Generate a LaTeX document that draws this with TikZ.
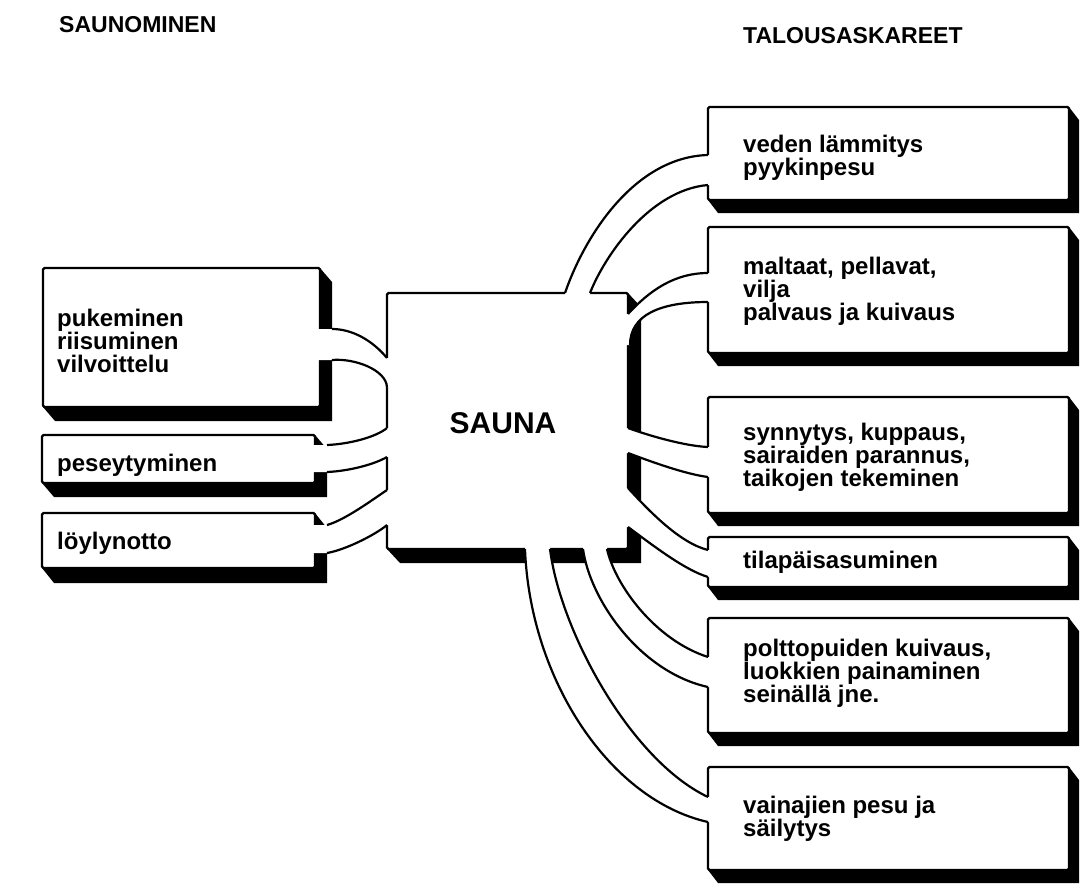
\documentclass[tikz,border=0pt]{standalone}
\usepackage{fontspec}
\setmainfont{Liberation Sans}
\usetikzlibrary{calc}
\pgfdeclarelayer{bg}
\pgfsetlayers{bg,main}
\tikzset{
  boxnode/.style={draw=black, fill=white, line width=2.4pt, rectangle, inner sep=0pt, outer sep=0pt, rounded corners=1.5pt},
  bandline/.style={draw=black, line width=2.2pt},
  bandfill/.style={fill=white},
  lbl/.style={font=\bfseries\fontsize{24}{23}\selectfont, align=left, anchor=west, inner sep=0pt},
  hdr/.style={font=\bfseries\fontsize{23}{26}\selectfont, anchor=west, inner sep=0pt},
  bigl/.style={font=\bfseries\fontsize{30}{32}\selectfont, inner sep=0pt},
}
\newcommand\shadowof[3]{%
  \begin{pgfonlayer}{bg}
  \fill[black] (#1.south west) -- ($(#1.south west)+(#2,#3)$) -- ($(#1.south east)+(#2,#3)$) -- ($(#1.north east)+(#2,#3)$) -- (#1.north east) -- cycle;
  \end{pgfonlayer}}
\begin{document}
\begin{tikzpicture}[x=1pt,y=-1pt]
\useasboundingbox (0,0) rectangle (1089,884);
\begin{pgfonlayer}{bg}
\fill[white] (0,0) rectangle (1089,884);
\end{pgfonlayer}

% boxes
\node[boxnode, minimum width=277pt, minimum height=139pt] (A) at (181.5,337.5) {};
\node[boxnode, minimum width=273pt, minimum height=48pt] (B) at (178.5,459) {};
\node[boxnode, minimum width=273pt, minimum height=55pt] (C) at (178.5,540.5) {};
\node[boxnode, minimum width=241pt, minimum height=256pt] (S) at (507.5,421) {};
\node[boxnode, minimum width=361pt, minimum height=93pt] (R1) at (888.5,153.5) {};
\node[boxnode, minimum width=361pt, minimum height=126pt] (R2) at (888.5,290) {};
\node[boxnode, minimum width=361pt, minimum height=116pt] (R3) at (888.5,455) {};
\node[boxnode, minimum width=361pt, minimum height=50pt] (R4) at (888.5,562) {};
\node[boxnode, minimum width=361pt, minimum height=115pt] (R5) at (888.5,675.5) {};
\node[boxnode, minimum width=361pt, minimum height=103pt] (R6) at (888.5,818.5) {};

\shadowof{A}{12}{14}
\shadowof{B}{12}{14}
\shadowof{C}{12}{15}
\shadowof{S}{13}{14}
\shadowof{R1}{10}{13}
\shadowof{R2}{10}{13}
\shadowof{R3}{10}{13}
\shadowof{R4}{10}{13}
\shadowof{R5}{10}{13}
\shadowof{R6}{10}{13}

% ---- bands, left side ----
% L1: A -> SAUNA
\fill[bandfill] (316,329) -- (332,329) .. controls (352,329) and (372,340) .. (387,358) -- (392,358) -- (392,387) -- (387,387) .. controls (386,370) and (355,358) .. (332,360) -- (316,360) -- cycle;
\draw[bandline] (332,329) .. controls (352,329) and (372,340) .. (387,358);
\draw[bandline] (332,360) .. controls (355,358) and (386,370) .. (387,387);
% L2: B -> SAUNA
\fill[bandfill] (311,445) -- (327,445) .. controls (350,444) and (376,437) .. (387,428) -- (392,428) -- (392,457) -- (387,457) .. controls (375,464) and (350,471) .. (327,472) -- (311,472) -- cycle;
\draw[bandline] (327,445) .. controls (350,444) and (376,437) .. (387,428);
\draw[bandline] (327,472) .. controls (350,471) and (375,464) .. (387,457);
% L3: C -> SAUNA
\fill[bandfill] (311,525) -- (327,525) .. controls (345,520) and (372,500) .. (387,490) -- (392,490) -- (392,525) -- (387,525) .. controls (375,535) and (345,550) .. (327,553) -- (311,553) -- cycle;
\draw[bandline] (327,525) .. controls (345,520) and (372,500) .. (387,490);
\draw[bandline] (327,553) .. controls (345,550) and (375,535) .. (387,525);

% ---- bands, right side ----
% R1
\fill[bandfill] (565,298) -- (565,293) .. controls (585,235) and (635,157) .. (708,155) -- (712,155) -- (712,185) -- (708,185) .. controls (650,190) and (605,255) .. (590,293) -- (590,298) -- cycle;
\draw[bandline] (565,293) .. controls (585,235) and (635,157) .. (708,155);
\draw[bandline] (590,293) .. controls (605,255) and (650,190) .. (708,185);
% R2
\fill[bandfill] (624,314) -- (628,314) .. controls (650,290) and (675,273) .. (708,273) -- (712,273) -- (712,302) -- (708,302) .. controls (660,302) and (630,315) .. (630,345) -- (624,345) -- cycle;
\draw[bandline] (628,314) .. controls (650,290) and (675,273) .. (708,273);
\draw[bandline] (630,345) .. controls (630,315) and (660,302) .. (708,302);
% R3
\fill[bandfill] (624,428) -- (628,428) .. controls (650,436) and (685,446) .. (708,447) -- (712,447) -- (712,477) -- (708,477) .. controls (685,474) and (652,462) .. (628,453) -- (624,453) -- cycle;
\draw[bandline] (628,428) .. controls (650,436) and (685,446) .. (708,447);
\draw[bandline] (628,453) .. controls (652,462) and (685,474) .. (708,477);
% R4
\fill[bandfill] (624,488) -- (628,488) .. controls (650,512) and (680,543) .. (708,550) -- (712,550) -- (712,577) -- (708,577) .. controls (685,570) and (655,547) .. (628,527) -- (624,527) -- cycle;
\draw[bandline] (628,488) .. controls (650,512) and (680,543) .. (708,550);
\draw[bandline] (628,527) .. controls (655,547) and (685,570) .. (708,577);
% R5
\fill[bandfill] (583,545) -- (583,549) .. controls (590,600) and (640,672) .. (708,687) -- (712,687) -- (712,657) -- (708,657) .. controls (655,640) and (615,585) .. (607,549) -- (607,545) -- cycle;
\draw[bandline] (583,549) .. controls (590,600) and (640,672) .. (708,687);
\draw[bandline] (607,549) .. controls (615,585) and (655,640) .. (708,657);
% R6
\fill[bandfill] (525,545) -- (525,549) .. controls (530,680) and (610,800) .. (708,822) -- (712,822) -- (712,797) -- (708,797) .. controls (630,760) and (560,630) .. (550,549) -- (550,545) -- cycle;
\draw[bandline] (525,549) .. controls (530,680) and (610,800) .. (708,822);
\draw[bandline] (550,549) .. controls (560,630) and (630,760) .. (708,797);

% ---- texts ----
\node[hdr] (h1) at (59,25) {SAUNOMINEN};
\node[hdr] (h2) at (743,36) {TALOUSASKAREET};
\node[lbl] (tA) at (57,341) {pukeminen\\riisuminen\\vilvoittelu};
\node[lbl] (tB) at (57,465) {peseytyminen};
\node[lbl] (tC) at (57,543) {löylynotto};
\node[bigl] (tS) at (503,423) {SAUNA};
\node[lbl] (t1) at (743,158) {veden lämmitys\\pyykinpesu};
\node[lbl] (t2) at (743,291) {maltaat, pellavat,\\vilja\\palvaus ja kuivaus};
\node[lbl] (t3) at (743,457) {synnytys, kuppaus,\\sairaiden parannus,\\taikojen tekeminen};
\node[lbl] (t4) at (743,562) {tilapäisasuminen};
\node[lbl] (t5) at (743,673) {polttopuiden kuivaus,\\luokkien painaminen\\seinällä jne.};
\node[lbl] (t6) at (743,819) {vainajien pesu ja\\säilytys};
\end{tikzpicture}
\end{document}
